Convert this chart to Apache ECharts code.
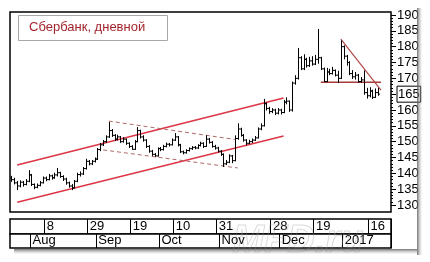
<!DOCTYPE html>
<html>
<head>
<meta charset="utf-8">
<style>
html, body { margin: 0; padding: 0; background: #fff; }
#chart { width: 430px; height: 262px; }
</style>
<script src="https://cdn.jsdelivr.net/npm/echarts/dist/echarts.min.js"></script>
</head>
<body>
<div id="chart"></div>
<script>
const titleText = 'Сбербанк, дневной';

// trading days by month
const tradingDays = {
  '2016-07': [22, 25, 26, 27, 28, 29],
  '2016-08': [1, 2, 3, 4, 5, 8, 9, 10, 11, 12, 15, 16, 17, 18, 19, 22, 23, 24, 25, 26, 29, 30, 31],
  '2016-09': [1, 2, 5, 6, 7, 8, 9, 12, 13, 14, 15, 16, 19, 20, 21, 22, 23, 26, 27, 28, 29, 30],
  '2016-10': [3, 4, 5, 6, 7, 10, 11, 12, 13, 14, 17, 18, 19, 20, 21, 24, 25, 26, 27, 28, 31],
  '2016-11': [1, 2, 3, 7, 8, 9, 10, 11, 14, 15, 16, 17, 18, 21, 22, 23, 24, 25, 28, 29, 30],
  '2016-12': [1, 2, 5, 6, 7, 8, 9, 12, 13, 14, 15, 16, 19, 20, 21, 22, 23, 26, 27, 28, 29, 30],
  '2017-01': [3, 4, 5, 6, 9, 10, 11, 12, 13, 16, 17, 18, 19, 20, 23, 24, 25, 26]
};

const dayTicks = [
  ['2016-08-08', '8'], ['2016-08-29', '29'], ['2016-09-19', '19'], ['2016-10-10', '10'],
  ['2016-10-31', '31'], ['2016-11-28', '28'], ['2016-12-19', '19'], ['2017-01-16', '16']
];
const monthTicks = [
  ['2016-08-01', 'Aug'], ['2016-09-01', 'Sep'], ['2016-10-03', 'Oct'],
  ['2016-11-01', 'Nov'], ['2016-12-01', 'Dec'], ['2017-01-03', '2017']
];

const priceMin = 130;
const priceMax = 190;
const priceStep = 5;
const lastPrice = 165;

// [open, high, low, close]
const ohlc = [
  [138.5, 139.2, 137.3, 138.0], [138.0, 138.6, 136.5, 137.0], [137.0, 137.6, 134.7, 136.0], [136.0, 137.8, 135.6, 137.2],
  [137.2, 137.6, 135.8, 136.5], [136.5, 138.2, 136.2, 137.5], [137.5, 141.0, 137.2, 139.5], [139.5, 139.8, 136.0, 136.5],
  [136.5, 136.8, 135.0, 135.6], [135.6, 136.8, 135.3, 136.2], [136.2, 137.6, 135.9, 137.0], [137.0, 139.0, 136.8, 138.5],
  [138.5, 139.0, 137.5, 138.0], [138.0, 139.8, 137.8, 139.2], [139.2, 139.6, 138.0, 138.6], [138.6, 140.2, 138.3, 139.5],
  [139.5, 141.7, 139.0, 140.2], [140.2, 140.5, 138.6, 139.0], [139.0, 139.4, 137.6, 138.2], [138.2, 138.6, 136.4, 137.0],
  [137.0, 137.4, 135.5, 136.0], [136.0, 136.6, 134.7, 135.4], [135.4, 137.9, 135.2, 137.5], [137.5, 140.2, 137.2, 139.6],
  [139.6, 140.6, 139.0, 139.8], [139.8, 142.0, 139.5, 141.5], [141.5, 144.6, 141.2, 143.8], [143.8, 144.2, 142.5, 143.0],
  [143.0, 144.2, 142.6, 143.8], [143.8, 145.0, 143.4, 144.5], [144.5, 148.0, 144.2, 147.5], [147.5, 149.6, 147.0, 149.0],
  [149.0, 150.5, 148.6, 150.0], [150.0, 152.0, 149.6, 151.5], [151.5, 156.2, 151.2, 153.5], [153.5, 154.0, 151.5, 152.0],
  [152.0, 152.4, 150.2, 150.8], [150.8, 152.2, 150.4, 151.5], [151.5, 151.8, 149.6, 150.0], [150.0, 151.4, 149.7, 150.8],
  [150.8, 151.0, 149.0, 149.5], [149.5, 149.8, 148.0, 148.5], [148.5, 148.9, 147.4, 147.6], [147.6, 150.5, 147.4, 150.0],
  [150.0, 154.6, 149.8, 153.5], [153.5, 153.8, 151.0, 151.5], [151.5, 152.0, 150.0, 150.5], [150.5, 150.8, 148.0, 148.5],
  [148.5, 148.9, 146.5, 147.0], [147.0, 147.4, 145.5, 146.0], [146.0, 146.4, 145.2, 145.5], [145.5, 148.2, 145.3, 147.8],
  [147.8, 148.3, 147.0, 147.5], [147.5, 149.0, 147.2, 148.5], [148.5, 149.7, 148.2, 149.2], [149.2, 149.6, 148.5, 149.0],
  [149.0, 151.0, 148.8, 150.5], [150.5, 152.7, 150.2, 151.5], [151.5, 151.8, 148.5, 149.0], [149.0, 149.3, 146.4, 146.8],
  [146.8, 147.2, 146.0, 146.5], [146.5, 147.6, 146.2, 147.2], [147.2, 148.2, 146.9, 147.8], [147.8, 148.6, 147.4, 148.2],
  [148.2, 148.6, 147.6, 148.0], [148.0, 149.2, 147.7, 148.8], [148.8, 150.0, 148.5, 149.5], [149.5, 149.8, 148.0, 148.5],
  [148.5, 152.0, 148.3, 150.8], [150.8, 151.2, 149.4, 149.8], [149.8, 150.2, 148.1, 148.5], [148.5, 149.0, 147.5, 148.0],
  [148.0, 148.4, 146.6, 147.0], [147.0, 147.3, 145.5, 146.0], [146.0, 146.3, 142.0, 143.0], [143.0, 144.2, 142.6, 143.5],
  [143.5, 146.0, 143.2, 145.5], [145.5, 145.8, 143.2, 144.0], [144.0, 152.0, 143.8, 151.0], [151.0, 155.8, 150.6, 154.0],
  [154.0, 154.4, 151.6, 152.0], [152.0, 152.4, 150.0, 150.5], [150.5, 150.8, 148.8, 149.5], [149.5, 150.6, 149.2, 150.0],
  [150.0, 151.0, 149.6, 150.5], [150.5, 151.8, 150.2, 151.2], [151.2, 154.5, 151.0, 154.0], [154.0, 155.8, 153.6, 155.0],
  [155.0, 163.5, 154.8, 162.0], [162.0, 162.4, 159.8, 160.5], [160.5, 161.0, 158.8, 159.5], [159.5, 160.6, 159.0, 160.0],
  [160.0, 160.4, 158.4, 159.0], [159.0, 160.6, 158.6, 160.0], [160.0, 160.4, 158.6, 159.2], [159.2, 163.2, 159.0, 162.5],
  [162.5, 164.0, 161.8, 162.8], [162.8, 163.0, 159.4, 160.0], [160.0, 169.0, 159.5, 168.5], [168.5, 171.0, 168.0, 170.0],
  [170.0, 179.6, 169.6, 176.5], [176.5, 177.0, 172.6, 173.0], [173.0, 177.6, 172.6, 176.0], [176.0, 176.5, 173.4, 174.0],
  [174.0, 176.8, 173.6, 175.5], [175.5, 177.0, 174.0, 174.5], [174.5, 177.4, 174.2, 176.0], [176.0, 185.6, 174.6, 176.5],
  [176.5, 176.8, 172.6, 173.0], [173.0, 173.4, 168.8, 169.0], [169.0, 173.3, 168.8, 172.0], [172.0, 173.0, 171.0, 171.5],
  [171.5, 173.6, 171.2, 172.5], [172.5, 172.8, 170.6, 171.0], [171.0, 172.4, 168.5, 170.0], [170.0, 182.0, 169.8, 180.0],
  [180.0, 180.4, 176.0, 177.0], [177.0, 177.4, 174.0, 175.0], [175.0, 175.4, 171.0, 171.5], [171.5, 172.6, 169.8, 170.5],
  [170.5, 172.0, 169.6, 171.0], [171.0, 171.4, 168.6, 169.0], [169.0, 170.4, 168.6, 169.5], [169.5, 172.5, 164.8, 165.5],
  [165.5, 167.0, 163.6, 164.5], [164.5, 167.2, 164.0, 166.0], [166.0, 166.4, 163.5, 164.0], [164.0, 166.8, 163.8, 165.5],
  [165.5, 167.0, 164.5, 165.0]
];

// trend lines: [bar index, price]
const channelTop = [[2, 142.6], [95, 163.8]];
const channelBottom = [[2, 130.9], [95, 151.8]];
const flagTop = [[34, 156.5], [78, 150.7]];
const flagBottom = [[32, 147.4], [79, 141.7]];
const triangleTop = [[115, 182.4], [129, 166.3]];
const supportLine = [[108, 168.8], [129, 168.8]];

let dates = [];
Object.keys(tradingDays).forEach(function (m) {
  tradingDays[m].forEach(function (d) {
    dates.push(m + '-' + String(d).padStart(2, '0'));
  });
});

// separators stand on the boundary after the marked day
function sepMap(ticks) {
  let byIdx = {}, byVal = {};
  ticks.forEach(function (t) {
    let i = dates.indexOf(t[0]) + 1;
    byIdx[i] = t[1];
    byVal[dates[i]] = t[1];
  });
  return { byIdx: byIdx, byVal: byVal };
}
const daySep = sepMap(dayTicks);
const monthSep = sepMap(monthTicks);

const font = 'Liberation Sans, Arial, sans-serif';

function rowAxis(gridIndex, sep, len) {
  return {
    gridIndex: gridIndex,
    type: 'category',
    data: dates,
    axisLine: { show: false },
    splitLine: { show: false },
    axisTick: {
      show: true,
      inside: true,
      length: len,
      interval: function (i) { return sep.byIdx[i] !== undefined; },
      lineStyle: { color: '#000', width: 1 }
    },
    axisLabel: {
      show: true,
      inside: true,
      margin: 1,
      align: 'left',
      padding: [0, 0, 0, 1],
      fontSize: 13,
      fontFamily: font,
      color: '#000',
      interval: function (i) { return sep.byIdx[i] !== undefined; },
      formatter: function (v) { return sep.byVal[v] || ''; }
    }
  };
}

function renderBar(params, api) {
  let i = api.value(0);
  let pO = api.coord([i, api.value(1)]);
  let pH = api.coord([i, api.value(2)]);
  let pL = api.coord([i, api.value(3)]);
  let pC = api.coord([i, api.value(4)]);
  let x = Math.round(pH[0]) + 0.5;
  let st = { stroke: '#000', lineWidth: 1 };
  return {
    type: 'group',
    children: [
      { type: 'line', shape: { x1: x, y1: pH[1], x2: x, y2: pL[1] }, style: st },
      { type: 'line', shape: { x1: x - 1.5, y1: pO[1], x2: x, y2: pO[1] }, style: st },
      { type: 'line', shape: { x1: x, y1: pC[1], x2: x + 1.5, y2: pC[1] }, style: st }
    ]
  };
}

function trend(data, color, width, type) {
  return {
    type: 'line',
    xAxisIndex: 0,
    yAxisIndex: 0,
    data: data,
    symbol: 'none',
    silent: true,
    z: 3,
    lineStyle: { color: color, width: width, type: type }
  };
}

let option = {
  animation: false,
  backgroundColor: '#fff',
  title: {
    text: titleText,
    left: 18,
    top: 15,
    padding: [6, 23, 7, 11],
    borderColor: '#a8a8a8',
    borderWidth: 1,
    backgroundColor: '#fff',
    textStyle: { fontSize: 13, fontWeight: 'normal', color: '#a3262e', fontFamily: font }
  },
  grid: [
    { left: 10, top: 15, width: 381, height: 190 },
    { left: 10, top: 219, width: 381, height: 15, show: true, borderColor: '#000', borderWidth: 1.5, backgroundColor: '#fff' },
    { left: 10, top: 234, width: 381, height: 14, show: true, borderColor: '#000', borderWidth: 1.5, backgroundColor: '#fff' }
  ],
  xAxis: [
    { gridIndex: 0, type: 'category', data: dates, show: false },
    rowAxis(1, daySep, 15),
    rowAxis(2, monthSep, 14)
  ],
  yAxis: [
    {
      gridIndex: 0,
      type: 'value',
      position: 'right',
      min: priceMin,
      max: priceMax,
      interval: priceStep,
      axisLine: { show: false },
      splitLine: { show: false },
      axisTick: { show: true, length: 5, lineStyle: { color: '#000' } },
      minorTick: { show: true, splitNumber: 5, length: 2, lineStyle: { color: '#000' } },
      axisLabel: {
        margin: 6,
        fontSize: 13,
        fontFamily: font,
        color: '#000',
        formatter: function (v) { return v === lastPrice ? '{box|' + v + '}' : String(v); },
        rich: {
          box: { fontSize: 13, fontFamily: font, color: '#000', borderColor: '#000', borderWidth: 1, padding: [2, 1, 1, 1] }
        }
      }
    },
    { gridIndex: 1, type: 'value', show: false },
    { gridIndex: 2, type: 'value', show: false }
  ],
  graphic: [
    {
      type: 'text', left: 232, top: 222, z: 1, silent: true,
      style: { text: 'MFD.ru', font: 'italic bold 38px Liberation Sans, Arial', fill: 'rgba(0,0,0,0)', stroke: 'rgba(150,150,150,0.35)', lineWidth: 1 }
    },
    {
      type: 'rect', z: 50, silent: true,
      shape: { x: 10, y: 12, width: 381, height: 200 },
      style: { fill: 'none', stroke: '#000', lineWidth: 1.5 }
    },
    {
      type: 'rect', z: 60, silent: true,
      shape: { x: 417, y: 8, width: 5, height: 247 },
      style: {
        fill: new echarts.graphic.LinearGradient(0, 0, 1, 0, [
          { offset: 0, color: 'rgba(90,90,90,0.85)' },
          { offset: 1, color: 'rgba(200,200,200,0.1)' }
        ])
      }
    },
    {
      type: 'rect', z: 60, silent: true,
      shape: { x: 14, y: 249, width: 403, height: 5 },
      style: {
        fill: new echarts.graphic.LinearGradient(0, 0, 0, 1, [
          { offset: 0, color: 'rgba(90,90,90,0.85)' },
          { offset: 1, color: 'rgba(200,200,200,0.1)' }
        ])
      }
    }
  ],
  series: [
    {
      type: 'custom',
      xAxisIndex: 0,
      yAxisIndex: 0,
      renderItem: renderBar,
      encode: { x: 0, y: [1, 2, 3, 4] },
      data: ohlc.map(function (b, i) { return [i, b[0], b[1], b[2], b[3]]; }),
      z: 4
    },
    trend(channelTop, '#dc3646', 1.5, 'solid'),
    trend(channelBottom, '#dc3646', 1.5, 'solid'),
    trend(flagTop, '#b06a6a', 1, [4, 3]),
    trend(flagBottom, '#b06a6a', 1, [4, 3]),
    trend(triangleTop, '#b04a4a', 1.2, 'solid'),
    trend(supportLine, '#a83a3a', 1.5, 'solid')
  ]
};

var myChart = echarts.init(document.getElementById('chart'));
myChart.setOption(option);
</script>
</body>
</html>
